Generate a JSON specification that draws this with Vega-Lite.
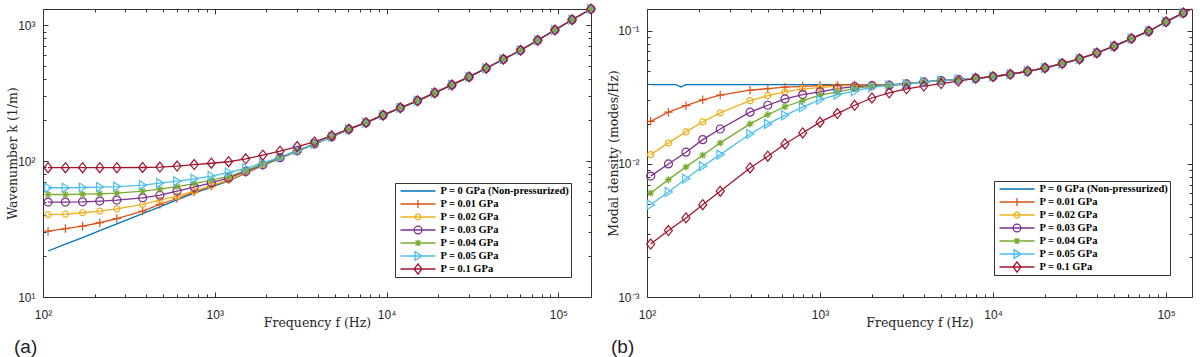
{
"$schema": "https://vega.github.io/schema/vega-lite/v6.json",
"padding": {"left": 5, "top": 1, "right": 0, "bottom": 0},
"spacing": 8,
"datasets": {
"left": [
{"f":107,"s":"s0","v":21.8},{"f":135,"s":"s0","v":24.5},{"f":170,"s":"s0","v":27.4},{"f":214,"s":"s0","v":30.8},{"f":269,"s":"s0","v":34.5},{"f":380,"s":"s0","v":41.1},{"f":479,"s":"s0","v":46.1},{"f":603,"s":"s0","v":51.8},{"f":759,"s":"s0","v":58.1},{"f":955,"s":"s0","v":64.5},{"f":1202,"s":"s0","v":71.5},{"f":1514,"s":"s0","v":81.5},{"f":1905,"s":"s0","v":92.5},{"f":2399,"s":"s0","v":105},{"f":3020,"s":"s0","v":118.5},{"f":3802,"s":"s0","v":133.3},{"f":4786,"s":"s0","v":150.5},{"f":6026,"s":"s0","v":172},{"f":7586,"s":"s0","v":192},{"f":9550,"s":"s0","v":218},{"f":12023,"s":"s0","v":247},{"f":15136,"s":"s0","v":278},{"f":19055,"s":"s0","v":318},{"f":23988,"s":"s0","v":364},{"f":30200,"s":"s0","v":417},{"f":38019,"s":"s0","v":483},{"f":47863,"s":"s0","v":562},{"f":60256,"s":"s0","v":655},{"f":75858,"s":"s0","v":776},{"f":95499,"s":"s0","v":923},{"f":120226,"s":"s0","v":1099},{"f":154882,"s":"s0","v":1318},
{"f":107,"s":"s1","v":30.5},{"f":135,"s":"s1","v":31.9},{"f":170,"s":"s1","v":33.2},{"f":214,"s":"s1","v":35.2},{"f":269,"s":"s1","v":37.8},{"f":380,"s":"s1","v":42.9},{"f":479,"s":"s1","v":48},{"f":603,"s":"s1","v":53.1},{"f":759,"s":"s1","v":59.2},{"f":955,"s":"s1","v":65.5},{"f":1202,"s":"s1","v":72.5},{"f":1514,"s":"s1","v":82},{"f":1905,"s":"s1","v":93},{"f":2399,"s":"s1","v":105.3},{"f":3020,"s":"s1","v":118.7},{"f":3802,"s":"s1","v":133.5},{"f":4786,"s":"s1","v":150.6},{"f":6026,"s":"s1","v":172},{"f":7586,"s":"s1","v":192},{"f":9550,"s":"s1","v":218},{"f":12023,"s":"s1","v":247},{"f":15136,"s":"s1","v":278},{"f":19055,"s":"s1","v":318},{"f":23988,"s":"s1","v":364},{"f":30200,"s":"s1","v":417},{"f":38019,"s":"s1","v":483},{"f":47863,"s":"s1","v":562},{"f":60256,"s":"s1","v":655},{"f":75858,"s":"s1","v":776},{"f":95499,"s":"s1","v":923},{"f":120226,"s":"s1","v":1099},{"f":154882,"s":"s1","v":1318},
{"f":107,"s":"s2","v":40.4},{"f":135,"s":"s2","v":40.7},{"f":170,"s":"s2","v":41.7},{"f":214,"s":"s2","v":42.9},{"f":269,"s":"s2","v":44.6},{"f":380,"s":"s2","v":48},{"f":479,"s":"s2","v":51.7},{"f":603,"s":"s2","v":55.3},{"f":759,"s":"s2","v":60.2},{"f":955,"s":"s2","v":66},{"f":1202,"s":"s2","v":72.8},{"f":1514,"s":"s2","v":82.3},{"f":1905,"s":"s2","v":93.2},{"f":2399,"s":"s2","v":105.5},{"f":3020,"s":"s2","v":118.9},{"f":3802,"s":"s2","v":133.6},{"f":4786,"s":"s2","v":150.7},{"f":6026,"s":"s2","v":172},{"f":7586,"s":"s2","v":192},{"f":9550,"s":"s2","v":218},{"f":12023,"s":"s2","v":247},{"f":15136,"s":"s2","v":278},{"f":19055,"s":"s2","v":318},{"f":23988,"s":"s2","v":364},{"f":30200,"s":"s2","v":417},{"f":38019,"s":"s2","v":483},{"f":47863,"s":"s2","v":562},{"f":60256,"s":"s2","v":655},{"f":75858,"s":"s2","v":776},{"f":95499,"s":"s2","v":923},{"f":120226,"s":"s2","v":1099},{"f":154882,"s":"s2","v":1318},
{"f":107,"s":"s3","v":50},{"f":135,"s":"s3","v":50},{"f":170,"s":"s3","v":50.2},{"f":214,"s":"s3","v":50.8},{"f":269,"s":"s3","v":51.7},{"f":380,"s":"s3","v":53.7},{"f":479,"s":"s3","v":56.2},{"f":603,"s":"s3","v":60.2},{"f":759,"s":"s3","v":64.4},{"f":955,"s":"s3","v":69.2},{"f":1202,"s":"s3","v":75.3},{"f":1514,"s":"s3","v":84},{"f":1905,"s":"s3","v":94},{"f":2399,"s":"s3","v":106},{"f":3020,"s":"s3","v":119.2},{"f":3802,"s":"s3","v":133.8},{"f":4786,"s":"s3","v":150.8},{"f":6026,"s":"s3","v":172},{"f":7586,"s":"s3","v":192},{"f":9550,"s":"s3","v":218},{"f":12023,"s":"s3","v":247},{"f":15136,"s":"s3","v":278},{"f":19055,"s":"s3","v":318},{"f":23988,"s":"s3","v":364},{"f":30200,"s":"s3","v":417},{"f":38019,"s":"s3","v":483},{"f":47863,"s":"s3","v":562},{"f":60256,"s":"s3","v":655},{"f":75858,"s":"s3","v":776},{"f":95499,"s":"s3","v":923},{"f":120226,"s":"s3","v":1099},{"f":154882,"s":"s3","v":1318},
{"f":107,"s":"s4","v":56.8},{"f":135,"s":"s4","v":56.8},{"f":170,"s":"s4","v":57.1},{"f":214,"s":"s4","v":57.5},{"f":269,"s":"s4","v":58.2},{"f":380,"s":"s4","v":60.2},{"f":479,"s":"s4","v":62.2},{"f":603,"s":"s4","v":65},{"f":759,"s":"s4","v":68.4},{"f":955,"s":"s4","v":72.4},{"f":1202,"s":"s4","v":77.1},{"f":1514,"s":"s4","v":85.5},{"f":1905,"s":"s4","v":95},{"f":2399,"s":"s4","v":106.5},{"f":3020,"s":"s4","v":119.5},{"f":3802,"s":"s4","v":134},{"f":4786,"s":"s4","v":151},{"f":6026,"s":"s4","v":172},{"f":7586,"s":"s4","v":192},{"f":9550,"s":"s4","v":218},{"f":12023,"s":"s4","v":247},{"f":15136,"s":"s4","v":278},{"f":19055,"s":"s4","v":318},{"f":23988,"s":"s4","v":364},{"f":30200,"s":"s4","v":417},{"f":38019,"s":"s4","v":483},{"f":47863,"s":"s4","v":562},{"f":60256,"s":"s4","v":655},{"f":75858,"s":"s4","v":776},{"f":95499,"s":"s4","v":923},{"f":120226,"s":"s4","v":1099},{"f":154882,"s":"s4","v":1318},
{"f":107,"s":"s5","v":63.7},{"f":135,"s":"s5","v":63.7},{"f":170,"s":"s5","v":64},{"f":214,"s":"s5","v":64.4},{"f":269,"s":"s5","v":65},{"f":380,"s":"s5","v":66.6},{"f":479,"s":"s5","v":68.9},{"f":603,"s":"s5","v":71.2},{"f":759,"s":"s5","v":74.1},{"f":955,"s":"s5","v":77.6},{"f":1202,"s":"s5","v":82.5},{"f":1514,"s":"s5","v":88.5},{"f":1905,"s":"s5","v":97},{"f":2399,"s":"s5","v":107},{"f":3020,"s":"s5","v":119.8},{"f":3802,"s":"s5","v":134.2},{"f":4786,"s":"s5","v":151.2},{"f":6026,"s":"s5","v":172},{"f":7586,"s":"s5","v":192},{"f":9550,"s":"s5","v":218},{"f":12023,"s":"s5","v":247},{"f":15136,"s":"s5","v":278},{"f":19055,"s":"s5","v":318},{"f":23988,"s":"s5","v":364},{"f":30200,"s":"s5","v":417},{"f":38019,"s":"s5","v":483},{"f":47863,"s":"s5","v":562},{"f":60256,"s":"s5","v":655},{"f":75858,"s":"s5","v":776},{"f":95499,"s":"s5","v":923},{"f":120226,"s":"s5","v":1099},{"f":154882,"s":"s5","v":1318},
{"f":107,"s":"s6","v":89.5},{"f":135,"s":"s6","v":89.5},{"f":170,"s":"s6","v":89.5},{"f":214,"s":"s6","v":89.5},{"f":269,"s":"s6","v":89.5},{"f":380,"s":"s6","v":89.8},{"f":479,"s":"s6","v":90.5},{"f":603,"s":"s6","v":92},{"f":759,"s":"s6","v":94.4},{"f":955,"s":"s6","v":96.5},{"f":1202,"s":"s6","v":99},{"f":1514,"s":"s6","v":104},{"f":1905,"s":"s6","v":110.7},{"f":2399,"s":"s6","v":118.5},{"f":3020,"s":"s6","v":128},{"f":3802,"s":"s6","v":138.6},{"f":4786,"s":"s6","v":154},{"f":6026,"s":"s6","v":172},{"f":7586,"s":"s6","v":192},{"f":9550,"s":"s6","v":218},{"f":12023,"s":"s6","v":247},{"f":15136,"s":"s6","v":278},{"f":19055,"s":"s6","v":318},{"f":23988,"s":"s6","v":364},{"f":30200,"s":"s6","v":417},{"f":38019,"s":"s6","v":483},{"f":47863,"s":"s6","v":562},{"f":60256,"s":"s6","v":655},{"f":75858,"s":"s6","v":776},{"f":95499,"s":"s6","v":923},{"f":120226,"s":"s6","v":1099},{"f":154882,"s":"s6","v":1318}
],
"right": [
{"f":105,"s":"s0","v":0.0395},{"f":133,"s":"s0","v":0.0395},{"f":147,"s":"s0","v":0.0395},{"f":157,"s":"s0","v":0.0378},{"f":168,"s":"s0","v":0.0395},{"f":210,"s":"s0","v":0.0395},{"f":265,"s":"s0","v":0.0395},{"f":394,"s":"s0","v":0.0395},{"f":499,"s":"s0","v":0.0395},{"f":627,"s":"s0","v":0.0395},{"f":794,"s":"s0","v":0.0395},{"f":1000,"s":"s0","v":0.0395},{"f":1259,"s":"s0","v":0.0395},{"f":1585,"s":"s0","v":0.0395},{"f":1995,"s":"s0","v":0.0395},{"f":2512,"s":"s0","v":0.0394},{"f":3162,"s":"s0","v":0.04},{"f":3981,"s":"s0","v":0.0414},{"f":5012,"s":"s0","v":0.0423},{"f":6310,"s":"s0","v":0.0433},{"f":7943,"s":"s0","v":0.044},{"f":10000,"s":"s0","v":0.0453},{"f":12589,"s":"s0","v":0.0472},{"f":15849,"s":"s0","v":0.0497},{"f":19953,"s":"s0","v":0.0527},{"f":25119,"s":"s0","v":0.0568},{"f":31623,"s":"s0","v":0.0615},{"f":39811,"s":"s0","v":0.0682},{"f":50119,"s":"s0","v":0.0767},{"f":63096,"s":"s0","v":0.0875},{"f":79433,"s":"s0","v":0.0994},{"f":100000,"s":"s0","v":0.117},{"f":125893,"s":"s0","v":0.1365},
{"f":105,"s":"s1","v":0.0209},{"f":133,"s":"s1","v":0.0245},{"f":168,"s":"s1","v":0.0274},{"f":210,"s":"s1","v":0.0303},{"f":265,"s":"s1","v":0.0329},{"f":394,"s":"s1","v":0.0358},{"f":499,"s":"s1","v":0.0368},{"f":627,"s":"s1","v":0.0378},{"f":794,"s":"s1","v":0.0383},{"f":1000,"s":"s1","v":0.0388},{"f":1259,"s":"s1","v":0.0391},{"f":1585,"s":"s1","v":0.0392},{"f":1995,"s":"s1","v":0.0392},{"f":2512,"s":"s1","v":0.0393},{"f":3162,"s":"s1","v":0.04},{"f":3981,"s":"s1","v":0.0414},{"f":5012,"s":"s1","v":0.0423},{"f":6310,"s":"s1","v":0.0433},{"f":7943,"s":"s1","v":0.044},{"f":10000,"s":"s1","v":0.0453},{"f":12589,"s":"s1","v":0.0472},{"f":15849,"s":"s1","v":0.0497},{"f":19953,"s":"s1","v":0.0527},{"f":25119,"s":"s1","v":0.0568},{"f":31623,"s":"s1","v":0.0615},{"f":39811,"s":"s1","v":0.0682},{"f":50119,"s":"s1","v":0.0767},{"f":63096,"s":"s1","v":0.0875},{"f":79433,"s":"s1","v":0.0994},{"f":100000,"s":"s1","v":0.117},{"f":125893,"s":"s1","v":0.1365},
{"f":105,"s":"s2","v":0.01175},{"f":133,"s":"s2","v":0.01439},{"f":168,"s":"s2","v":0.0174},{"f":210,"s":"s2","v":0.0207},{"f":265,"s":"s2","v":0.0242},{"f":394,"s":"s2","v":0.0299},{"f":499,"s":"s2","v":0.0326},{"f":627,"s":"s2","v":0.0348},{"f":794,"s":"s2","v":0.0366},{"f":1000,"s":"s2","v":0.0374},{"f":1259,"s":"s2","v":0.0384},{"f":1585,"s":"s2","v":0.039},{"f":1995,"s":"s2","v":0.0391},{"f":2512,"s":"s2","v":0.0392},{"f":3162,"s":"s2","v":0.04},{"f":3981,"s":"s2","v":0.0414},{"f":5012,"s":"s2","v":0.0423},{"f":6310,"s":"s2","v":0.0433},{"f":7943,"s":"s2","v":0.044},{"f":10000,"s":"s2","v":0.0453},{"f":12589,"s":"s2","v":0.0472},{"f":15849,"s":"s2","v":0.0497},{"f":19953,"s":"s2","v":0.0527},{"f":25119,"s":"s2","v":0.0568},{"f":31623,"s":"s2","v":0.0615},{"f":39811,"s":"s2","v":0.0682},{"f":50119,"s":"s2","v":0.0767},{"f":63096,"s":"s2","v":0.0875},{"f":79433,"s":"s2","v":0.0994},{"f":100000,"s":"s2","v":0.117},{"f":125893,"s":"s2","v":0.1365},
{"f":105,"s":"s3","v":0.0081},{"f":133,"s":"s3","v":0.01},{"f":168,"s":"s3","v":0.01225},{"f":210,"s":"s3","v":0.01523},{"f":265,"s":"s3","v":0.0183},{"f":394,"s":"s3","v":0.0245},{"f":499,"s":"s3","v":0.0276},{"f":627,"s":"s3","v":0.0308},{"f":794,"s":"s3","v":0.0332},{"f":1000,"s":"s3","v":0.0348},{"f":1259,"s":"s3","v":0.0368},{"f":1585,"s":"s3","v":0.0381},{"f":1995,"s":"s3","v":0.0388},{"f":2512,"s":"s3","v":0.0391},{"f":3162,"s":"s3","v":0.0399},{"f":3981,"s":"s3","v":0.0413},{"f":5012,"s":"s3","v":0.0423},{"f":6310,"s":"s3","v":0.0433},{"f":7943,"s":"s3","v":0.044},{"f":10000,"s":"s3","v":0.0453},{"f":12589,"s":"s3","v":0.0472},{"f":15849,"s":"s3","v":0.0497},{"f":19953,"s":"s3","v":0.0527},{"f":25119,"s":"s3","v":0.0568},{"f":31623,"s":"s3","v":0.0615},{"f":39811,"s":"s3","v":0.0682},{"f":50119,"s":"s3","v":0.0767},{"f":63096,"s":"s3","v":0.0875},{"f":79433,"s":"s3","v":0.0994},{"f":100000,"s":"s3","v":0.117},{"f":125893,"s":"s3","v":0.1365},
{"f":105,"s":"s4","v":0.00605},{"f":133,"s":"s4","v":0.00762},{"f":168,"s":"s4","v":0.0095},{"f":210,"s":"s4","v":0.01162},{"f":265,"s":"s4","v":0.01439},{"f":394,"s":"s4","v":0.02},{"f":499,"s":"s4","v":0.0235},{"f":627,"s":"s4","v":0.0269},{"f":794,"s":"s4","v":0.0299},{"f":1000,"s":"s4","v":0.0329},{"f":1259,"s":"s4","v":0.0348},{"f":1585,"s":"s4","v":0.0368},{"f":1995,"s":"s4","v":0.0384},{"f":2512,"s":"s4","v":0.039},{"f":3162,"s":"s4","v":0.0398},{"f":3981,"s":"s4","v":0.0413},{"f":5012,"s":"s4","v":0.0422},{"f":6310,"s":"s4","v":0.0433},{"f":7943,"s":"s4","v":0.044},{"f":10000,"s":"s4","v":0.0453},{"f":12589,"s":"s4","v":0.0472},{"f":15849,"s":"s4","v":0.0497},{"f":19953,"s":"s4","v":0.0527},{"f":25119,"s":"s4","v":0.0568},{"f":31623,"s":"s4","v":0.0615},{"f":39811,"s":"s4","v":0.0682},{"f":50119,"s":"s4","v":0.0767},{"f":63096,"s":"s4","v":0.0875},{"f":79433,"s":"s4","v":0.0994},{"f":100000,"s":"s4","v":0.117},{"f":125893,"s":"s4","v":0.1365},
{"f":105,"s":"s5","v":0.00494},{"f":133,"s":"s5","v":0.00616},{"f":168,"s":"s5","v":0.00775},{"f":210,"s":"s5","v":0.0096},{"f":265,"s":"s5","v":0.01175},{"f":394,"s":"s5","v":0.0168},{"f":499,"s":"s5","v":0.02},{"f":627,"s":"s5","v":0.0232},{"f":794,"s":"s5","v":0.0267},{"f":1000,"s":"s5","v":0.0304},{"f":1259,"s":"s5","v":0.0332},{"f":1585,"s":"s5","v":0.0352},{"f":1995,"s":"s5","v":0.0377},{"f":2512,"s":"s5","v":0.0389},{"f":3162,"s":"s5","v":0.0397},{"f":3981,"s":"s5","v":0.0412},{"f":5012,"s":"s5","v":0.0422},{"f":6310,"s":"s5","v":0.0432},{"f":7943,"s":"s5","v":0.044},{"f":10000,"s":"s5","v":0.0453},{"f":12589,"s":"s5","v":0.0472},{"f":15849,"s":"s5","v":0.0497},{"f":19953,"s":"s5","v":0.0527},{"f":25119,"s":"s5","v":0.0568},{"f":31623,"s":"s5","v":0.0615},{"f":39811,"s":"s5","v":0.0682},{"f":50119,"s":"s5","v":0.0767},{"f":63096,"s":"s5","v":0.0875},{"f":79433,"s":"s5","v":0.0994},{"f":100000,"s":"s5","v":0.117},{"f":125893,"s":"s5","v":0.1365},
{"f":105,"s":"s6","v":0.0025},{"f":133,"s":"s6","v":0.00316},{"f":168,"s":"s6","v":0.00393},{"f":210,"s":"s6","v":0.00494},{"f":265,"s":"s6","v":0.00624},{"f":394,"s":"s6","v":0.00933},{"f":499,"s":"s6","v":0.01143},{"f":627,"s":"s6","v":0.01413},{"f":794,"s":"s6","v":0.0171},{"f":1000,"s":"s6","v":0.0206},{"f":1259,"s":"s6","v":0.0239},{"f":1585,"s":"s6","v":0.0276},{"f":1995,"s":"s6","v":0.0313},{"f":2512,"s":"s6","v":0.0342},{"f":3162,"s":"s6","v":0.0367},{"f":3981,"s":"s6","v":0.0385},{"f":5012,"s":"s6","v":0.0402},{"f":6310,"s":"s6","v":0.0419},{"f":7943,"s":"s6","v":0.044},{"f":10000,"s":"s6","v":0.0453},{"f":12589,"s":"s6","v":0.0472},{"f":15849,"s":"s6","v":0.0497},{"f":19953,"s":"s6","v":0.0527},{"f":25119,"s":"s6","v":0.0568},{"f":31623,"s":"s6","v":0.0615},{"f":39811,"s":"s6","v":0.0682},{"f":50119,"s":"s6","v":0.0767},{"f":63096,"s":"s6","v":0.0875},{"f":79433,"s":"s6","v":0.0994},{"f":100000,"s":"s6","v":0.117},{"f":125893,"s":"s6","v":0.1365},{"f":141254,"s":"s6","v":0.146,"m":0}
]
},
"hconcat": [
{
"width": 548, "height": 288,
"data": {"name": "left"},
"title": {"text": "(a)", "orient": "bottom", "anchor": "start", "frame": "group", "dx": -29, "offset": 9, "font": "Liberation Sans", "fontSize": 19, "fontWeight": "normal", "color": "#222"},
"resolve": {"scale": {"color": "independent", "shape": "independent"}, "axis": {"x": "independent", "y": "independent"}},
"layer": [
{
"mark": {"type": "line", "strokeWidth": 1.3},
"encoding": {
"x": {"field": "f", "type": "quantitative", "scale": {"type": "log", "domain": [100, 154882], "nice": false},
"axis": {"orient": "bottom", "values": [100,200,300,400,500,600,700,800,900,1000,2000,3000,4000,5000,6000,7000,8000,9000,10000,20000,30000,40000,50000,60000,70000,80000,90000,100000],
"labelExpr": "datum.value == 100 ? '10²' : datum.value == 1000 ? '10³' : datum.value == 10000 ? '10⁴' : datum.value == 100000 ? '10⁵' : ''",
"tickSize": {"condition": {"test": "datum.value == 100 || datum.value == 1000 || datum.value == 10000 || datum.value == 100000", "value": -5}, "value": -3},
"labelPadding": 17, "labelFlush": false, "labelOverlap": false, "title": "Frequency f (Hz)", "titlePadding": 4, "minExtent": 15, "maxExtent": 15}},
"y": {"field": "v", "type": "quantitative", "scale": {"type": "log", "domain": [10, 1318], "nice": false},
"axis": {"orient": "left", "values": [10,20,30,40,50,60,70,80,90,100,200,300,400,500,600,700,800,900,1000],
"labelExpr": "datum.value == 10 ? '10¹' : datum.value == 100 ? '10²' : datum.value == 1000 ? '10³' : ''",
"tickSize": {"condition": {"test": "datum.value == 10 || datum.value == 100 || datum.value == 1000", "value": -5}, "value": -3},
"labelPadding": 13, "labelFlush": false, "labelOverlap": false, "title": "Wavenumber k (1/m)", "titlePadding": 2, "minExtent": 22, "maxExtent": 22}},
"color": {"field": "s", "type": "nominal", "scale": {"domain": ["s0","s1","s2","s3","s4","s5","s6"], "range": ["#0072BD","#D95319","#EDB120","#7E2F8E","#77AC30","#4DBEEE","#A2142F"]}, "legend": null}
}
},
{
"transform": [{"filter": "datum.s != 's0' && datum.m !== 0"}],
"mark": {"type": "point", "filled": false, "strokeWidth": 1.2, "size": 100, "opacity": 1},
"encoding": {
"x": {"field": "f", "type": "quantitative", "scale": {"type": "log", "domain": [100, 154882], "nice": false},
"axis": {"orient": "top", "values": [100,200,300,400,500,600,700,800,900,1000,2000,3000,4000,5000,6000,7000,8000,9000,10000,20000,30000,40000,50000,60000,70000,80000,90000,100000],
"labels": false, "tickSize": {"condition": {"test": "datum.value == 100 || datum.value == 1000 || datum.value == 10000 || datum.value == 100000", "value": -5}, "value": -3}, "title": null, "minExtent": 0, "maxExtent": 0}},
"y": {"field": "v", "type": "quantitative", "scale": {"type": "log", "domain": [10, 1318], "nice": false},
"axis": {"orient": "right", "values": [10,20,30,40,50,60,70,80,90,100,200,300,400,500,600,700,800,900,1000],
"labels": false, "tickSize": {"condition": {"test": "datum.value == 10 || datum.value == 100 || datum.value == 1000", "value": -5}, "value": -3}, "title": null, "minExtent": 0, "maxExtent": 0}},
"color": {"field": "s", "type": "nominal", "scale": {"domain": ["s1","s2","s3","s4","s5","s6"], "range": ["#D95319","#EDB120","#7E2F8E","#77AC30","#4DBEEE","#A2142F"]}, "legend": null},
"shape": {"field": "s", "type": "nominal", "scale": {"domain": ["s1","s2","s3","s4","s5","s6"], "range": ["M-0.85,0H0.85M0,-0.85V0.85", "M0.6,0A0.6,0.6 0 1,1 -0.6,0A0.6,0.6 0 1,1 0.6,0Z", "M0.8,0A0.8,0.8 0 1,1 -0.8,0A0.8,0.8 0 1,1 0.8,0Z", "M-0.7,0H0.7M0,-0.7V0.7M-0.5,-0.5L0.5,0.5M-0.5,0.5L0.5,-0.5", "M-0.65,-0.9L0.8,0L-0.65,0.9Z", "M0,-1L0.8,0L0,1L-0.8,0Z"]}, "legend": null}
}
},
{
"mark": {"type": "point", "filled": false, "opacity": 0},
"encoding": {
"x": {"field": "f", "type": "quantitative", "scale": {"type": "log", "domain": [100, 154882], "nice": false}, "axis": null},
"y": {"field": "v", "type": "quantitative", "scale": {"type": "log", "domain": [10, 1318], "nice": false}, "axis": null},
"color": {"field": "s", "type": "nominal", "scale": {"domain": ["s0","s1","s2","s3","s4","s5","s6"], "range": ["#0072BD","#D95319","#EDB120","#7E2F8E","#77AC30","#4DBEEE","#A2142F"]},
"legend": {"title": null, "orient": "bottom-right", "offset": 20, "labelExpr": "datum.value == 's0' ? 'P = 0 GPa (Non-pressurized)' : datum.value == 's1' ? 'P = 0.01 GPa' : datum.value == 's2' ? 'P = 0.02 GPa' : datum.value == 's3' ? 'P = 0.03 GPa' : datum.value == 's4' ? 'P = 0.04 GPa' : datum.value == 's5' ? 'P = 0.05 GPa' : 'P = 0.1 GPa'"}},
"shape": {"field": "s", "type": "nominal", "scale": {"domain": ["s0","s1","s2","s3","s4","s5","s6"], "range": ["M-1,0H1", "M-1,0H1M0,-0.23V0.23", "M-1,0H1M0.16,0A0.16,0.16 0 1,1 -0.16,0A0.16,0.16 0 1,1 0.16,0", "M-1,0H1M0.22,0A0.22,0.22 0 1,1 -0.22,0A0.22,0.22 0 1,1 0.22,0", "M-1,0H1M0,-0.19V0.19M-0.14,-0.14L0.14,0.14M-0.14,0.14L0.14,-0.14", "M-1,0H1M-0.17,-0.25L0.23,0L-0.17,0.25Z", "M-1,0H1M0,-0.29L0.22,0L0,0.29L-0.22,0Z"]},
"legend": {"title": null, "orient": "bottom-right", "offset": 20, "labelExpr": "datum.value == 's0' ? 'P = 0 GPa (Non-pressurized)' : datum.value == 's1' ? 'P = 0.01 GPa' : datum.value == 's2' ? 'P = 0.02 GPa' : datum.value == 's3' ? 'P = 0.03 GPa' : datum.value == 's4' ? 'P = 0.04 GPa' : datum.value == 's5' ? 'P = 0.05 GPa' : 'P = 0.1 GPa'"}}
}
}
]
},
{
"width": 545, "height": 288,
"data": {"name": "right"},
"title": {"text": "(b)", "orient": "bottom", "anchor": "start", "frame": "group", "dx": -36, "offset": 9, "font": "Liberation Sans", "fontSize": 19, "fontWeight": "normal", "color": "#222"},
"resolve": {"scale": {"color": "independent", "shape": "independent"}, "axis": {"x": "independent", "y": "independent"}},
"layer": [
{
"mark": {"type": "line", "strokeWidth": 1.3},
"encoding": {
"x": {"field": "f", "type": "quantitative", "scale": {"type": "log", "domain": [100, 141254], "nice": false},
"axis": {"orient": "bottom", "values": [100,200,300,400,500,600,700,800,900,1000,2000,3000,4000,5000,6000,7000,8000,9000,10000,20000,30000,40000,50000,60000,70000,80000,90000,100000],
"labelExpr": "datum.value == 100 ? '10²' : datum.value == 1000 ? '10³' : datum.value == 10000 ? '10⁴' : datum.value == 100000 ? '10⁵' : ''",
"tickSize": {"condition": {"test": "datum.value == 100 || datum.value == 1000 || datum.value == 10000 || datum.value == 100000", "value": -5}, "value": -3},
"labelPadding": 17, "labelFlush": false, "labelOverlap": false, "title": "Frequency f (Hz)", "titlePadding": 4, "minExtent": 15, "maxExtent": 15}},
"y": {"field": "v", "type": "quantitative", "scale": {"type": "log", "domain": [0.001, 0.146], "nice": false},
"axis": {"orient": "left", "values": [0.001,0.002,0.003,0.004,0.005,0.006,0.007,0.008,0.009,0.01,0.02,0.03,0.04,0.05,0.06,0.07,0.08,0.09,0.1],
"labelExpr": "datum.value == 0.001 ? '10⁻³' : datum.value == 0.01 ? '10⁻²' : datum.value == 0.1 ? '10⁻¹' : ''",
"tickSize": {"condition": {"test": "datum.value == 0.001 || datum.value == 0.01 || datum.value == 0.1", "value": -5}, "value": -3},
"labelPadding": 13, "labelFlush": false, "labelOverlap": false, "title": "Modal density (modes/Hz)", "titlePadding": 2, "minExtent": 24.5, "maxExtent": 24.5}},
"color": {"field": "s", "type": "nominal", "scale": {"domain": ["s0","s1","s2","s3","s4","s5","s6"], "range": ["#0072BD","#D95319","#EDB120","#7E2F8E","#77AC30","#4DBEEE","#A2142F"]}, "legend": null}
}
},
{
"transform": [{"filter": "datum.s != 's0' && datum.m !== 0"}],
"mark": {"type": "point", "filled": false, "strokeWidth": 1.2, "size": 100, "opacity": 1},
"encoding": {
"x": {"field": "f", "type": "quantitative", "scale": {"type": "log", "domain": [100, 141254], "nice": false},
"axis": {"orient": "top", "values": [100,200,300,400,500,600,700,800,900,1000,2000,3000,4000,5000,6000,7000,8000,9000,10000,20000,30000,40000,50000,60000,70000,80000,90000,100000],
"labels": false, "tickSize": {"condition": {"test": "datum.value == 100 || datum.value == 1000 || datum.value == 10000 || datum.value == 100000", "value": -5}, "value": -3}, "title": null, "minExtent": 0, "maxExtent": 0}},
"y": {"field": "v", "type": "quantitative", "scale": {"type": "log", "domain": [0.001, 0.146], "nice": false},
"axis": {"orient": "right", "values": [0.001,0.002,0.003,0.004,0.005,0.006,0.007,0.008,0.009,0.01,0.02,0.03,0.04,0.05,0.06,0.07,0.08,0.09,0.1],
"labels": false, "tickSize": {"condition": {"test": "datum.value == 0.001 || datum.value == 0.01 || datum.value == 0.1", "value": -5}, "value": -3}, "title": null, "minExtent": 0, "maxExtent": 0}},
"color": {"field": "s", "type": "nominal", "scale": {"domain": ["s1","s2","s3","s4","s5","s6"], "range": ["#D95319","#EDB120","#7E2F8E","#77AC30","#4DBEEE","#A2142F"]}, "legend": null},
"shape": {"field": "s", "type": "nominal", "scale": {"domain": ["s1","s2","s3","s4","s5","s6"], "range": ["M-0.85,0H0.85M0,-0.85V0.85", "M0.6,0A0.6,0.6 0 1,1 -0.6,0A0.6,0.6 0 1,1 0.6,0Z", "M0.8,0A0.8,0.8 0 1,1 -0.8,0A0.8,0.8 0 1,1 0.8,0Z", "M-0.7,0H0.7M0,-0.7V0.7M-0.5,-0.5L0.5,0.5M-0.5,0.5L0.5,-0.5", "M-0.65,-0.9L0.8,0L-0.65,0.9Z", "M0,-1L0.8,0L0,1L-0.8,0Z"]}, "legend": null}
}
},
{
"mark": {"type": "point", "filled": false, "opacity": 0},
"encoding": {
"x": {"field": "f", "type": "quantitative", "scale": {"type": "log", "domain": [100, 141254], "nice": false}, "axis": null},
"y": {"field": "v", "type": "quantitative", "scale": {"type": "log", "domain": [0.001, 0.146], "nice": false}, "axis": null},
"color": {"field": "s", "type": "nominal", "scale": {"domain": ["s0","s1","s2","s3","s4","s5","s6"], "range": ["#0072BD","#D95319","#EDB120","#7E2F8E","#77AC30","#4DBEEE","#A2142F"]},
"legend": {"title": null, "orient": "bottom-right", "offset": 22, "labelExpr": "datum.value == 's0' ? 'P = 0 GPa (Non-pressurized)' : datum.value == 's1' ? 'P = 0.01 GPa' : datum.value == 's2' ? 'P = 0.02 GPa' : datum.value == 's3' ? 'P = 0.03 GPa' : datum.value == 's4' ? 'P = 0.04 GPa' : datum.value == 's5' ? 'P = 0.05 GPa' : 'P = 0.1 GPa'"}},
"shape": {"field": "s", "type": "nominal", "scale": {"domain": ["s0","s1","s2","s3","s4","s5","s6"], "range": ["M-1,0H1", "M-1,0H1M0,-0.23V0.23", "M-1,0H1M0.16,0A0.16,0.16 0 1,1 -0.16,0A0.16,0.16 0 1,1 0.16,0", "M-1,0H1M0.22,0A0.22,0.22 0 1,1 -0.22,0A0.22,0.22 0 1,1 0.22,0", "M-1,0H1M0,-0.19V0.19M-0.14,-0.14L0.14,0.14M-0.14,0.14L0.14,-0.14", "M-1,0H1M-0.17,-0.25L0.23,0L-0.17,0.25Z", "M-1,0H1M0,-0.29L0.22,0L0,0.29L-0.22,0Z"]},
"legend": {"title": null, "orient": "bottom-right", "offset": 22, "labelExpr": "datum.value == 's0' ? 'P = 0 GPa (Non-pressurized)' : datum.value == 's1' ? 'P = 0.01 GPa' : datum.value == 's2' ? 'P = 0.02 GPa' : datum.value == 's3' ? 'P = 0.03 GPa' : datum.value == 's4' ? 'P = 0.04 GPa' : datum.value == 's5' ? 'P = 0.05 GPa' : 'P = 0.1 GPa'"}}
}
}
]
}
],
"config": {
"view": {"stroke": "#333", "strokeWidth": 1},
"axis": {"grid": false, "domain": false, "tickColor": "#333", "tickWidth": 1, "labelFont": "Liberation Sans", "labelFontSize": 12, "labelColor": "#262626", "titleFont": "DejaVu Serif", "titleFontSize": 12.5, "titleFontWeight": "normal", "titleColor": "#262626"},
"legend": {"symbolSize": 1225, "symbolStrokeWidth": 1.3, "symbolOpacity": 1, "clipHeight": 13, "rowPadding": 0, "padding": 1.5, "symbolOffset": 3, "labelOffset": 4, "strokeColor": "#333", "fillColor": "white", "labelFont": "Liberation Serif", "labelFontWeight": "bold", "labelFontSize": 10.5, "labelColor": "black", "labelLimit": 0}
}
}
